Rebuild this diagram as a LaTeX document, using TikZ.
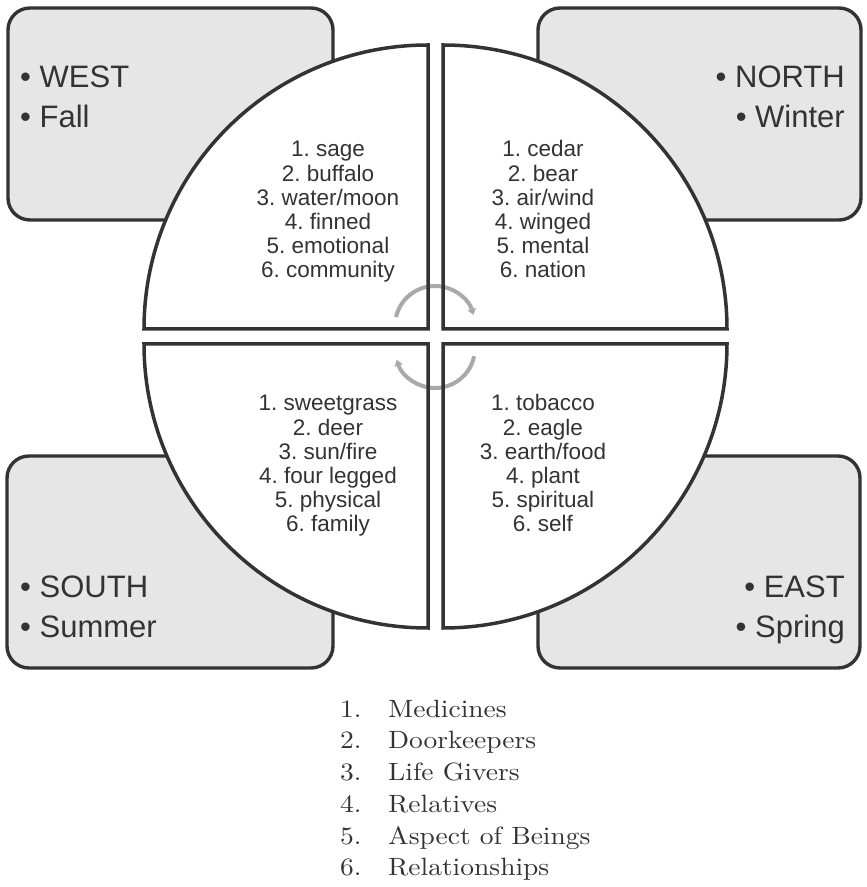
\documentclass[tikz,border=0pt]{standalone}
\usepackage{fontspec}
\setsansfont{Liberation Sans}
\newfontfamily\legendfont{lmroman10-regular.otf}[FakeStretch=1.1]
\usepackage{tikz}
\usetikzlibrary{arrows.meta,positioning}
\definecolor{ink}{HTML}{333333}
\definecolor{panel}{HTML}{E6E6E6}
\definecolor{turngray}{HTML}{A9A9A9}

\begin{document}
\frenchspacing
\begin{tikzpicture}[x=1pt, y=1pt,
        season/.style={draw=ink, fill=panel, line width=3.4pt, rounded corners=22pt},
        quad/.style={draw=ink, line width=3.5pt},
        turn/.style={draw=turngray, line width=4pt, -{Triangle[length=6pt,width=8pt]}},
        dirtext/.style={inner sep=0pt, text=ink, font=\sffamily\fontsize{31}{40}\selectfont},
        listtext/.style={inner sep=0pt, text=ink, align=center, anchor=base, font=\sffamily\fontsize{22.5}{24.2}\selectfont},
        legend/.style={inner sep=0pt, text=ink, align=left, anchor=base west, font=\legendfont\fontsize{25}{31.8}\selectfont}
    ]
    \useasboundingbox (0,0) rectangle (867,887);

    % season boxes
    \draw[season] (8,667) rectangle (333,879);
    \draw[season] (538,667) rectangle (861,879);
    \draw[season] (7,219) rectangle (333,431);
    \draw[season] (538,219) rectangle (860,431);

    % corners of the four quarters
    \coordinate (tl) at (428,558);
    \coordinate (tr) at (443,558);
    \coordinate (br) at (443,543);
    \coordinate (bl) at (428,543);
    \coordinate (ctop) at (435,561);
    \coordinate (cbot) at (435,539);

    \foreach \c/\s in {tl/180, tr/90, br/0, bl/-90}
        \fill[white] (\c) -- ++(\s:284pt) arc[start angle=\s, end angle=\s-90, radius=284pt] -- cycle;

    \draw[turn] (ctop) ++(167:40pt) arc[start angle=167, end angle=16, radius=40pt];
    \draw[turn] (cbot) ++(-12:40pt) arc[start angle=-12, end angle=-163, radius=40pt];

    \foreach \c/\s in {tl/180, tr/90, br/0, bl/-90}
        \draw[quad] (\c) -- ++(\s:284pt) arc[start angle=\s, end angle=\s-90, radius=284pt] -- cycle;

    % directions (base = last line)
    \node[dirtext, align=left, anchor=base west] (west) at (20,759) {• WEST\\• Fall};
    \node[dirtext, align=right, anchor=base east] (north) at (845,759) {• NORTH\\• Winter};
    \node[dirtext, align=left, anchor=base west] (south) at (20,249) {• SOUTH\\• Summer};
    \node[dirtext, align=right, anchor=base east] (east) at (845,249) {• EAST\\• Spring};

    % lists in the quarters
    \node[listtext] (westlist) at (328,609) {1. sage\\2. buffalo\\3. water/moon\\4. finned\\5. emotional\\6. community};
    \node[listtext] (northlist) at (543,609) {1. cedar\\2. bear\\3. air/wind\\4. winged\\5. mental\\6. nation};
    \node[listtext] (southlist) at (328,355) {1. sweetgrass\\2. deer\\3. sun/fire\\4. four legged\\5. physical\\6. family};
    \node[listtext] (eastlist) at (543,355) {1. tobacco\\2. eagle\\3. earth/food\\4. plant\\5. spiritual\\6. self};

    % legend
    \node[legend] (legnum) at (340,11) {1.\\2.\\3.\\4.\\5.\\6.};
    \node[legend] (legtext) at ([xshift=48pt]legnum.base west) {Medicines\\Doorkeepers\\Life Givers\\Relatives\\Aspect of Beings\\Relationships};

\end{tikzpicture}
\end{document}
